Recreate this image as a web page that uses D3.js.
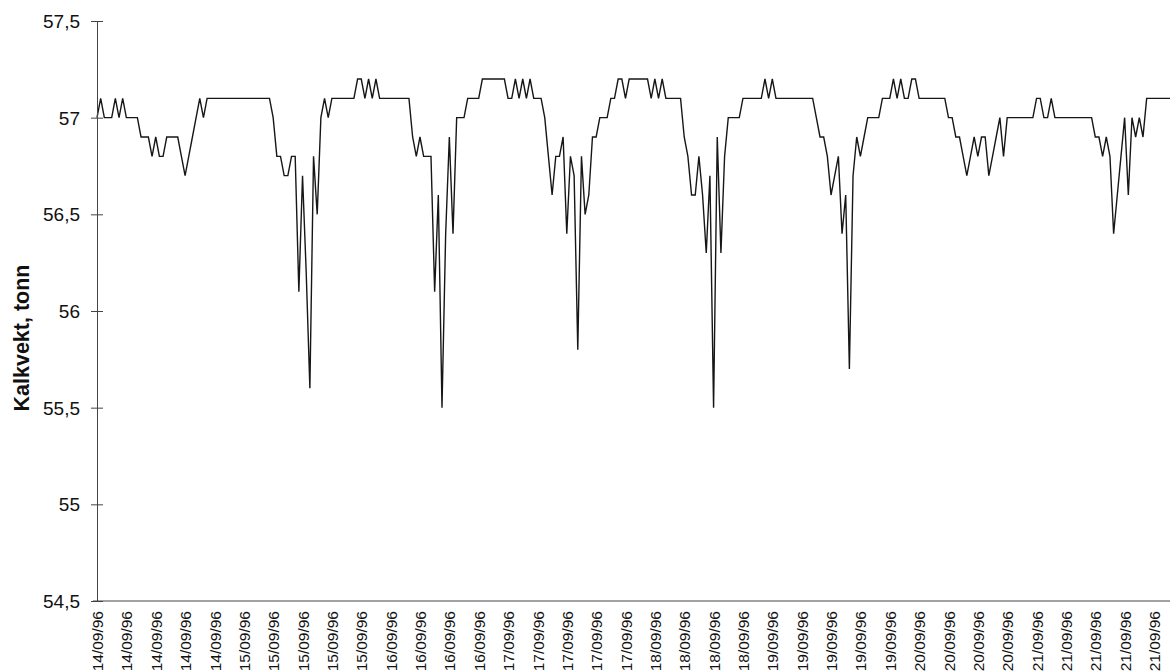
<!DOCTYPE html>
<html>
<head>
<meta charset="utf-8">
<script src="https://cdn.jsdelivr.net/npm/d3@7/dist/d3.min.js"></script>
<style>
  html, body { margin: 0; padding: 0; background: #fff; }
  svg { display: block; }
  text { font-family: "Liberation Sans", Arial, sans-serif; fill: #111; }
</style>
</head>
<body>
<svg id="chart" width="1170" height="672"></svg>
<script>
// ---- data ----
const yAxisTitle = "Kalkvekt, tonn";

const tickLabels = [
  "14/09/96","14/09/96","14/09/96","14/09/96","14/09/96",
  "15/09/96","15/09/96","15/09/96","15/09/96","15/09/96",
  "16/09/96","16/09/96","16/09/96","16/09/96",
  "17/09/96","17/09/96","17/09/96","17/09/96","17/09/96",
  "18/09/96","18/09/96","18/09/96","18/09/96",
  "19/09/96","19/09/96","19/09/96","19/09/96","19/09/96",
  "20/09/96","20/09/96","20/09/96","20/09/96",
  "21/09/96","21/09/96","21/09/96","21/09/96","21/09/96"
];
const pointsPerLabel = 8;

const yTicks = [54.5, 55, 55.5, 56, 56.5, 57, 57.5];
const yTickLabels = ["54,5", "55", "55,5", "56", "56,5", "57", "57,5"];

const values = [
  57.0,57.1,57.0,57.0,57.0,57.1,57.0,57.1,57.0,57.0,
  57.0,57.0,56.9,56.9,56.9,56.8,56.9,56.8,56.8,56.9,
  56.9,56.9,56.9,56.8,56.7,56.8,56.9,57.0,57.1,57.0,
  57.1,57.1,57.1,57.1,57.1,57.1,57.1,57.1,57.1,57.1,
  57.1,57.1,57.1,57.1,57.1,57.1,57.1,57.1,57.0,56.8,
  56.8,56.7,56.7,56.8,56.8,56.1,56.7,56.2,55.6,56.8,
  56.5,57.0,57.1,57.0,57.1,57.1,57.1,57.1,57.1,57.1,
  57.1,57.2,57.2,57.1,57.2,57.1,57.2,57.1,57.1,57.1,
  57.1,57.1,57.1,57.1,57.1,57.1,56.9,56.8,56.9,56.8,
  56.8,56.8,56.1,56.6,55.5,56.4,56.9,56.4,57.0,57.0,
  57.0,57.1,57.1,57.1,57.1,57.2,57.2,57.2,57.2,57.2,
  57.2,57.2,57.1,57.1,57.2,57.1,57.2,57.1,57.2,57.1,
  57.1,57.1,57.0,56.8,56.6,56.8,56.8,56.9,56.4,56.8,
  56.7,55.8,56.8,56.5,56.6,56.9,56.9,57.0,57.0,57.0,
  57.1,57.1,57.2,57.2,57.1,57.2,57.2,57.2,57.2,57.2,
  57.2,57.1,57.2,57.1,57.2,57.1,57.1,57.1,57.1,57.1,
  56.9,56.8,56.6,56.6,56.8,56.6,56.3,56.7,55.5,56.9,
  56.3,56.8,57.0,57.0,57.0,57.0,57.1,57.1,57.1,57.1,
  57.1,57.1,57.2,57.1,57.2,57.1,57.1,57.1,57.1,57.1,
  57.1,57.1,57.1,57.1,57.1,57.1,57.0,56.9,56.9,56.8,
  56.6,56.7,56.8,56.4,56.6,55.7,56.7,56.9,56.8,56.9,
  57.0,57.0,57.0,57.0,57.1,57.1,57.1,57.2,57.1,57.2,
  57.1,57.1,57.2,57.2,57.1,57.1,57.1,57.1,57.1,57.1,
  57.1,57.1,57.0,57.0,56.9,56.9,56.8,56.7,56.8,56.9,
  56.8,56.9,56.9,56.7,56.8,56.9,57.0,56.8,57.0,57.0,
  57.0,57.0,57.0,57.0,57.0,57.0,57.1,57.1,57.0,57.0,
  57.1,57.0,57.0,57.0,57.0,57.0,57.0,57.0,57.0,57.0,
  57.0,57.0,56.9,56.9,56.8,56.9,56.8,56.4,56.6,56.8,
  57.0,56.6,57.0,56.9,57.0,56.9,57.1,57.1,57.1,57.1,
  57.1,57.1,57.1,57.1,57.1,57.1
];

// ---- layout ----
const svg = d3.select("#chart");
const plotLeft = 97, plotTop = 21, plotBottom = 601, lastLabelX = 1154;
const lastLabelIdx = (tickLabels.length - 1) * pointsPerLabel;

const x = d3.scaleLinear().domain([0, lastLabelIdx]).range([plotLeft, lastLabelX]);
const y = d3.scaleLinear().domain([54.5, 57.5]).range([plotBottom, plotTop]);

// line
const line = d3.line()
  .x((d, i) => x(i))
  .y(d => y(d));

svg.append("path")
  .datum(values)
  .attr("fill", "none")
  .attr("stroke", "#161616")
  .attr("stroke-width", 1.4)
  .attr("stroke-linejoin", "miter")
  .attr("d", line);

// y axis
const yAxis = d3.axisLeft(y)
  .tickValues(yTicks)
  .tickFormat((d, i) => yTickLabels[i])
  .tickSize(6)
  .tickSizeOuter(0);

const gy = svg.append("g")
  .attr("transform", `translate(${plotLeft},0)`)
  .call(yAxis);
gy.select(".domain").attr("stroke", "#444").attr("stroke-width", 1);
gy.selectAll(".tick line").attr("x1", 6).attr("stroke", "#444");
gy.selectAll(".tick text")
  .attr("x", -17)
  .attr("dy", "0.34em")
  .style("font-size", "19px")
  .style("fill", "#111");

// x axis
const xAxis = d3.axisBottom(x)
  .tickValues(tickLabels.map((d, k) => k * pointsPerLabel))
  .tickFormat((d, k) => tickLabels[k])
  .tickSize(0)
  .tickSizeOuter(0);

const gx = svg.append("g")
  .attr("transform", `translate(0,${plotBottom})`)
  .call(xAxis);
gx.select(".domain").remove();
gx.append("line")
  .attr("x1", plotLeft - 4)
  .attr("x2", x(values.length - 1) + 10)
  .attr("y1", 0).attr("y2", 0)
  .attr("stroke", "#444").attr("stroke-width", 1);
gx.selectAll(".tick text")
  .attr("transform", "rotate(-90)")
  .attr("text-anchor", "end")
  .attr("x", -10)
  .attr("y", 0)
  .attr("dy", "0.36em")
  .style("font-size", "15.5px")
  .style("fill", "#111");

// y axis title
svg.append("text")
  .attr("transform", `translate(28.5,338) rotate(-90)`)
  .attr("text-anchor", "middle")
  .style("font-size", "21.5px")
  .style("font-weight", "bold")
  .text(yAxisTitle);
</script>
</body>
</html>
